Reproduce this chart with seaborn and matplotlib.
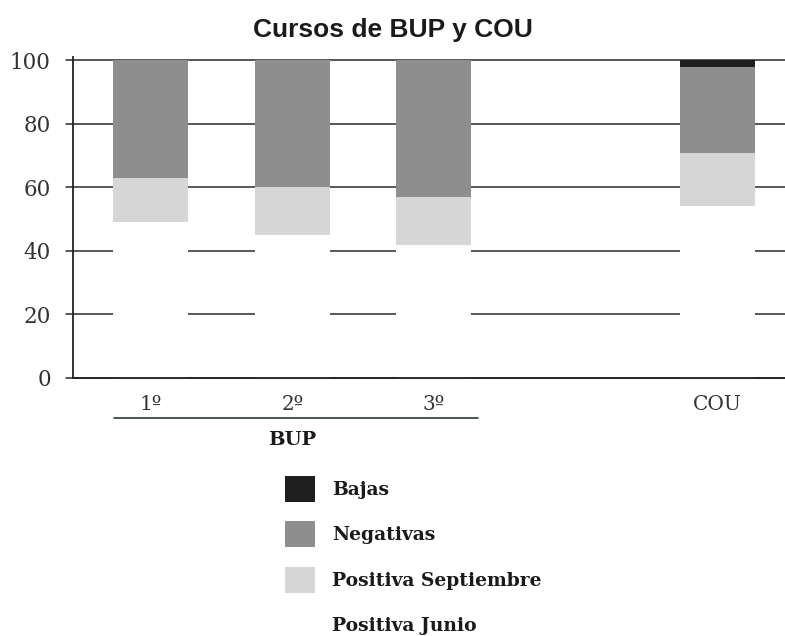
import matplotlib
matplotlib.use("Agg")
import matplotlib.pyplot as plt
from matplotlib.patches import Patch
import numpy as np
import pandas as pd
import seaborn as sns

sns.set_theme(style="white")
plt.rcParams["font.family"] = ["DejaVu Serif"]

cursos = ["1º", "2º", "3º", "COU"]
posiciones = [0, 1, 2, 4]
positiva_junio = [49, 45, 42, 54]
positiva_septiembre = [14, 15, 15, 17]
negativas = [37, 40, 43, 27]
bajas = [0, 0, 0, 2]

capas = ["Positiva Junio", "Positiva Septiembre", "Negativas", "Bajas"]
colores = {"Bajas": "#1e1e1e", "Negativas": "#8e8e8e",
           "Positiva Septiembre": "#d6d6d6", "Positiva Junio": "#ffffff"}

df = pd.DataFrame({"pos": posiciones, "Positiva Junio": positiva_junio,
                   "Positiva Septiembre": positiva_septiembre,
                   "Negativas": negativas, "Bajas": bajas})
acum = df[capas].cumsum(axis=1)

fig = plt.figure(figsize=(7.85, 6.36), dpi=100)
ax = fig.add_axes([0.093, 0.4057, 0.907, 0.5043])

for y in range(0, 101, 20):
    ax.axhline(y, color="#2a2a2a", lw=1.1, zorder=0, xmin=-0.01, clip_on=False)

# draw from the top layer down so each one covers the previous
for capa in reversed(capas):
    sns.barplot(x=df["pos"], y=acum[capa], native_scale=True, color=colores[capa],
                saturation=1, width=0.53, linewidth=0, ax=ax, zorder=2)

ax.set_xlim(-0.55, 4.48)
ax.set_ylim(0, 101)
ax.set_yticks(range(0, 101, 20))
ax.set_yticklabels([str(v) for v in range(0, 101, 20)], fontsize=15.5, color="#333333")
ax.set_xticks(posiciones)
ax.set_xticklabels(cursos, fontsize=14.5, color="#333333")
ax.set_xlabel(""); ax.set_ylabel("")
ax.tick_params(axis="x", direction="inout", length=8, width=1, pad=8, colors="#333333")
ax.tick_params(axis="y", length=0, pad=16)
for lado in ["top", "right"]:
    ax.spines[lado].set_visible(False)
for lado in ["left", "bottom"]:
    ax.spines[lado].set_color("#222222")
    ax.spines[lado].set_linewidth(1.3)

fig.text(0.5, 0.953, "Cursos de BUP y COU", ha="center", va="center",
         fontsize=19, fontweight="bold", family=["Liberation Sans", "DejaVu Sans"],
         color="#1a1a1a")

ax.plot([-0.26, 2.31], [-12.5, -12.5], color="#3a4a4a", lw=1.3, clip_on=False)
ax.text(1, -19.5, "BUP", ha="center", va="center", fontsize=14, fontweight="bold",
        color="#1a1a1a")

handles = [Patch(facecolor=colores[c], edgecolor="none") for c in reversed(capas)]
fig.legend(handles, list(reversed(capas)), loc="upper left", bbox_to_anchor=(0.353, 0.264),
           frameon=False, prop={"size": 13.5, "weight": "bold"}, handlelength=1.6,
           handleheight=1.75, labelspacing=1.05, handletextpad=0.95, labelcolor="#1a1a1a",
           borderaxespad=0)

fig.savefig("out.png", dpi=100)
